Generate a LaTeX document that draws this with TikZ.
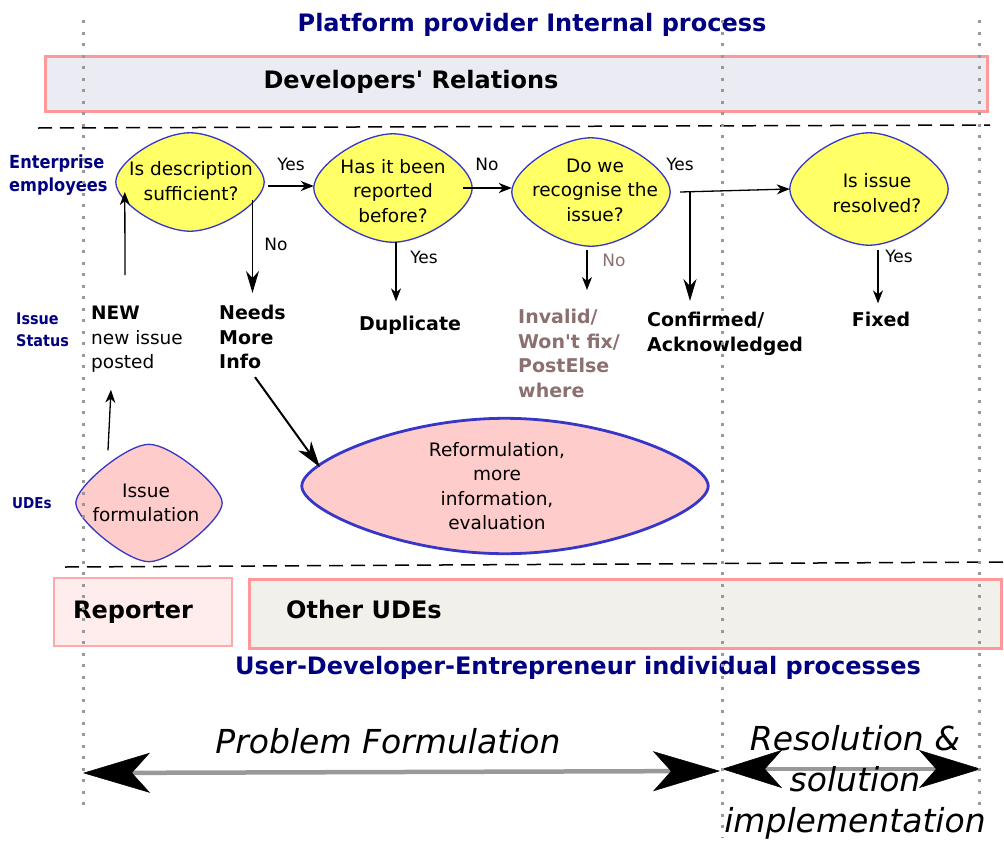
\documentclass[tikz,border=0pt]{standalone}
\usepackage{fontspec}
\setmainfont{DejaVu Sans}
\newfontfamily\condfont{DejaVu Sans Condensed}
\usetikzlibrary{arrows.meta,calc}
\definecolor{navyc}{HTML}{000080}
\definecolor{blobblue}{HTML}{3636C8}
\definecolor{blobyellow}{HTML}{FFFF66}
\definecolor{blobpink}{HTML}{FFCCCC}
\definecolor{devfill}{HTML}{EBEBF3}
\definecolor{boxred}{HTML}{FF9999}
\definecolor{repfill}{HTML}{FFECEC}
\definecolor{repline}{HTML}{FFAAAA}
\definecolor{othfill}{HTML}{F2F0EB}
\definecolor{mauve}{HTML}{8C7070}
\definecolor{grayc}{HTML}{999999}
\newcommand\fsz[2]{\fontsize{#1}{#2}\selectfont}
\newcommand\blobdraw[4]{\draw[#4] (#1.west) .. controls +(0,-#3) and +(-#2,0) .. (#1.north) .. controls +(#2,0) and +(0,-#3) .. (#1.east) .. controls +(0,#3) and +(#2,0) .. (#1.south) .. controls +(-#2,0) and +(0,#3) .. (#1.west) -- cycle;}
\begin{document}
\begin{tikzpicture}[x=1pt,y=-1pt,
  txt/.style={inner sep=0pt, font=\fsz{18.5}{24.5}, align=center},
  bold/.style={inner sep=0pt, font=\bfseries\fsz{19}{24.5}, align=left},
  lane/.style={inner sep=0pt, text=navyc, font=\condfont\bfseries\fsz{16}{22.5}, align=left, anchor=west},
  big/.style={inner sep=0pt, font=\bfseries\fsz{24}{28}, anchor=base},
  ttl/.style={inner sep=0pt, font=\bfseries\fsz{24}{28}, anchor=base, text=navyc},
  area/.style={inner sep=0pt, draw=none},
  blob/.style={draw=blobblue, line width=1.3pt, fill=blobyellow},
  pblob/.style={draw=blobblue, line width=1.3pt, fill=blobpink},
  arr/.style={line width=1.3pt, -{Stealth[length=13pt,width=10pt,inset=4pt]}},
  arrb/.style={line width=1.6pt, -{Stealth[length=22pt,width=13pt,inset=7pt]}},
  yn/.style={inner sep=0pt, font=\fsz{17}{20}},
  dotv/.style={draw=grayc, line width=3pt, dash pattern=on 3pt off 8.5pt},
  dashl/.style={draw=black, line width=1.5pt, dash pattern=on 14pt off 8pt},
  phase/.style={inner sep=0pt, font=\itshape\fsz{33}{41}, align=center},
  dbl/.style={draw=grayc, line width=4.5pt, {Stealth[length=67pt,width=40pt,inset=18pt,line width=0.5pt,color=black]}-{Stealth[length=67pt,width=40pt,inset=18pt,line width=0.5pt,color=black]}},
  rdbl/.style={draw=grayc, line width=4.5pt, {Stealth[length=60pt,width=38pt,inset=17pt,line width=0.5pt,color=black]}-{Stealth[length=62pt,width=38pt,inset=17pt,line width=0.5pt,color=black]}}
]
\path[use as bounding box] (0,0) rectangle (1004,841);

% ---------- top band
\node[ttl] (title) at (532,31) {Platform provider Internal process};
\node[area, draw=boxred, line width=3pt, fill=devfill, minimum width=942pt, minimum height=55pt, anchor=north west] (dev) at (44,55) {};
\node[big] (devt) at (411,88) {Developers\textquotesingle{} Relations};

% ---------- bottom band
\node[area, draw=repline, line width=1.5pt, fill=repfill, minimum width=178pt, minimum height=68pt, anchor=north west] (rep) at (53,577) {};
\node[big] (rept) at (133,618) {Reporter};
\node[area, draw=boxred, line width=3pt, fill=othfill, minimum width=752pt, minimum height=69pt, anchor=north west] (oth) at (248,578) {};
\node[big] (otht) at (364,618) {Other UDEs};
\node[ttl] (udet) at (578,674) {User-Developer-Entrepreneur individual processes};

% ---------- dashed separators
\coordinate (s1a) at (38,128); \coordinate (s1b) at (990,125);
\coordinate (s2a) at (65,567); \coordinate (s2b) at (1004,562);
\draw[dashl] (s1a) -- (s1b);
\draw[dashl] (s2a) -- (s2b);

% ---------- lane labels
\node[lane, font=\condfont\bfseries\fsz{18}{22.5}] (lane1) at (9,175) {Enterprise\\employees};
\node[lane] (lane2) at (16,330) {Issue\\Status};
\node[lane, font=\condfont\bfseries\fsz{15}{20}] (lane3) at (12,503) {UDEs};

% ---------- decision blobs
\node[area, minimum width=148pt, minimum height=98pt] (q1) at (190,182) {};
\node[area, minimum width=158pt, minimum height=108pt] (q2) at (393,188) {};
\node[area, minimum width=158pt, minimum height=108pt] (q3) at (591,192) {};
\node[area, minimum width=158pt, minimum height=112pt] (q4) at (869,189) {};
\node[area, minimum width=146pt, minimum height=117pt] (iss) at (149,503) {};
\node[area, minimum width=406pt, minimum height=135pt] (ref) at (505,486) {};
\blobdraw{q1}{30}{20}{blob}
\blobdraw{q2}{32}{22}{blob}
\blobdraw{q3}{32}{22}{blob}
\blobdraw{q4}{32}{23}{blob}
\blobdraw{iss}{22}{17}{pblob}
\blobdraw{ref}{105}{24}{pblob, line width=2.8pt}

\node[txt] (q1t) at (191,181) {Is description\\sufficient?};
\node[txt] (q2t) at (393,191) {Has it been\\reported\\before?};
\node[txt] (q3t) at (595,190) {Do we\\recognise the\\issue?};
\node[txt] (q4t) at (877,193) {Is issue\\resolved?};
\node[txt] (isst) at (146,503) {Issue\\formulation};
\node[txt] (reft) at (497,486) {Reformulation,\\more\\information,\\evaluation};

% ---------- status texts
\node[inner sep=0pt, font=\fsz{18.5}{24.5}, align=left, anchor=north west] (new) at (91,306) {\textbf{NEW}\\new issue\\posted};
\node[bold, anchor=north west] (needs) at (219,305) {Needs\\More\\Info};
\node[bold, anchor=base] (dup) at (410,330) {Duplicate};
\node[bold, anchor=north west, text=mauve] (inv) at (518,309) {Invalid/\\Won\textquotesingle{}t fix/\\PostElse\\where};
\node[bold, anchor=north west] (conf) at (647,312) {Confirmed/\\Acknowledged};
\node[bold, anchor=base] (fixed) at (881,326) {Fixed};

% ---------- yes / no labels
\node[yn] (l1) at (291,164) {Yes};
\node[yn] (l2) at (487,164) {No};
\node[yn] (l3) at (680,164) {Yes};
\node[yn] (l4) at (276,244) {No};
\node[yn] (l5) at (424,257) {Yes};
\node[yn, text=mauve] (l6) at (614,260) {No};
\node[yn] (l7) at (899,256) {Yes};

% ---------- connectors
\draw[arr] ($(q1.east)+(4,4)$) -- ($(q2.west)+(0,-2)$);
\draw[arr] ([xshift=-9pt]q2.east) -- (q3.west |- q2.east);
\draw[arr] ([xshift=10pt]q3.east) -- (q4.west);
\coordinate (br) at (690,191);
\draw[arrb] (br) -- ($(br |- conf.north)+(0,-11)$);
\draw[arrb] ($(needs.north |- q1.south)+(0,-31)$) -- ($(needs.north)+(0,-12)$);
\draw[arr] ($(q2.south)+(3,0)$) -- ($(q2.south |- dup.north)+(3,-14)$);
\draw[arr] ($(q3.south)+(-4,4)$) -- ($(q3.south |- inv.north)+(-4,-19)$);
\draw[arr] ($(q4.south)+(9,5)$) -- ($(q4.south |- fixed.north)+(9,-8)$);
\draw[arr] ($(new.north west)+(34,-31)$) -- ($(q1.west)+(9,10)$);
\draw[arr] ($(iss.north)+(-41,6)$) -- ($(new.south west)+(20,17)$);
\draw[line width=2pt, -{Stealth[length=26pt,width=16pt,inset=8pt]}] ($(needs.south west)+(36,8)$) -- ($(ref.west)+(18,-19)$);

% ---------- phase arrows
\coordinate (pfl) at (83,773); \coordinate (pfr) at (720,771);
\coordinate (rsl) at (722,769); \coordinate (rsr) at (981,769);
\draw[dbl] (pfl) -- (pfr);
\draw[rdbl] (rsl) -- (rsr);
\node[phase, anchor=base] (pf) at (388,753) {Problem Formulation};
\node[phase] (rs) at (855,782) {Resolution \&\\solution\\implementation};

% ---------- lane dividers (dotted)
\coordinate (v1t) at (83,20);  \coordinate (v1b) at (83,808);
\coordinate (v2t) at (722,20); \coordinate (v2b) at (722,838);
\coordinate (v3t) at (979,20); \coordinate (v3b) at (979,805);
\draw[dotv] (v1t) -- (v1b);
\draw[dotv] (v2t) -- (v2b);
\draw[dotv] (v3t) -- (v3b);
\end{tikzpicture}
\end{document}
